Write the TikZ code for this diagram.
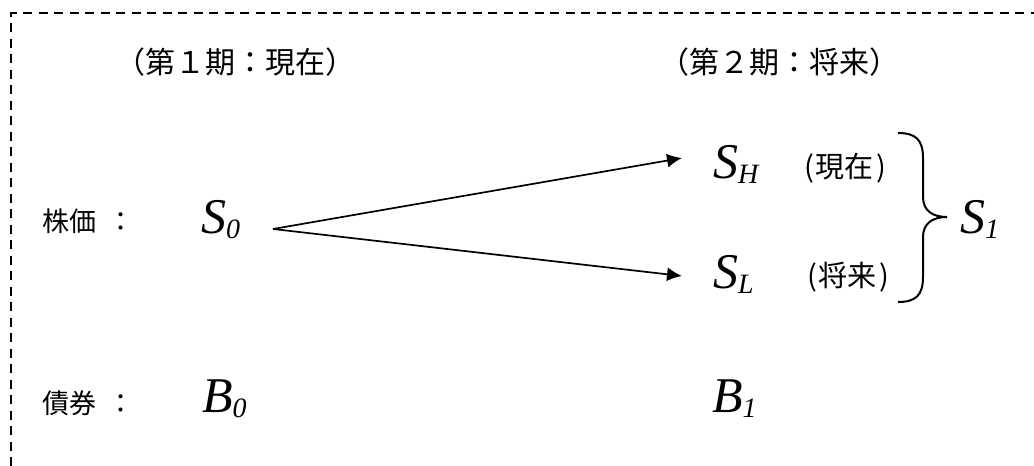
\documentclass[tikz,border=0pt]{standalone}
\usepackage{fontspec}
\setmainfont{Liberation Serif}
\newfontfamily\jpfont{Noto Sans CJK JP}
\usetikzlibrary{arrows.meta}
\newcommand{\mvar}[2]{{\fontsize{50}{50}\selectfont\itshape #1}\raisebox{-5pt}{\fontsize{28}{28}\selectfont\itshape #2}}
\begin{document}
\begin{tikzpicture}[x=1pt,y=-1pt,
  jptitle/.style={inner sep=0pt, anchor=center, font=\jpfont\fontsize{30}{30}\selectfont},
  jptext/.style={inner sep=0pt, anchor=west, font=\jpfont\fontsize{27}{27}\selectfont},
  jpsmall/.style={inner sep=0pt, anchor=west, font=\jpfont\fontsize{29}{29}\selectfont},
  mathtext/.style={inner sep=0pt, anchor=base west},
  arr/.style={line width=1.7pt, -{Latex[length=15pt,width=14pt]}},
  frame/.style={line width=2.2pt, dash pattern=on 9pt off 6.5pt},
  bracestyle/.style={line width=2pt}]
\useasboundingbox (0,0) rectangle (1034,466);
% frame (top and left edges)
\coordinate (fBL) at (11,466);
\coordinate (fTL) at (11,13);
\coordinate (fTR) at (1034,13);
\draw[frame] (fBL) -- (fTL) -- (fTR);
% headings
\node[jptitle] (t1) at (235,62) {（第１期：現在）};
\node[jptitle] (t2) at (779,62) {（第２期：将来）};
% row labels
\node[jptext] (stock) at (42,221) {株価\hspace{11pt}：};
\node[jptext] (bond) at (42,403) {債券\hspace{11pt}：};
% values
\node[mathtext] (S0) at (201,233) {\mvar{S}{0}};
\node[mathtext] (SH) at (713,178) {\mvar{S}{H}};
\node[mathtext] (SL) at (713,288) {\mvar{S}{L}};
\node[mathtext] (S1) at (960,233) {\mvar{S}{1}};
\node[mathtext] (B0) at (202,412) {\mvar{B}{0}};
\node[mathtext] (B1) at (712,412) {\mvar{B}{1}};
% small labels
\node[jpsmall] (now) at (804,168) {(\hspace{2pt}現在\hspace{3pt})};
\node[jpsmall] (fut) at (807,277) {(\hspace{2pt}将来\hspace{3pt})};
% arrows
\coordinate (fork) at (273,229);
\coordinate (hTip) at (682,158);
\coordinate (lTip) at (682,276);
\draw[arr] (fork) -- (hTip);
\draw[arr] (fork) -- (lTip);
% brace
\coordinate (bTop) at (898,133);
\coordinate (bTip) at (947,217);
\coordinate (bBot) at (898,302);
\draw[bracestyle] (bTop) .. controls (916,133) and (923,140) .. (923,158)
  -- (923,197) .. controls (923,211) and (933,217) .. (bTip)
  .. controls (933,217) and (923,223) .. (923,237)
  -- (923,277) .. controls (923,295) and (916,302) .. (bBot);
\end{tikzpicture}
\end{document}
